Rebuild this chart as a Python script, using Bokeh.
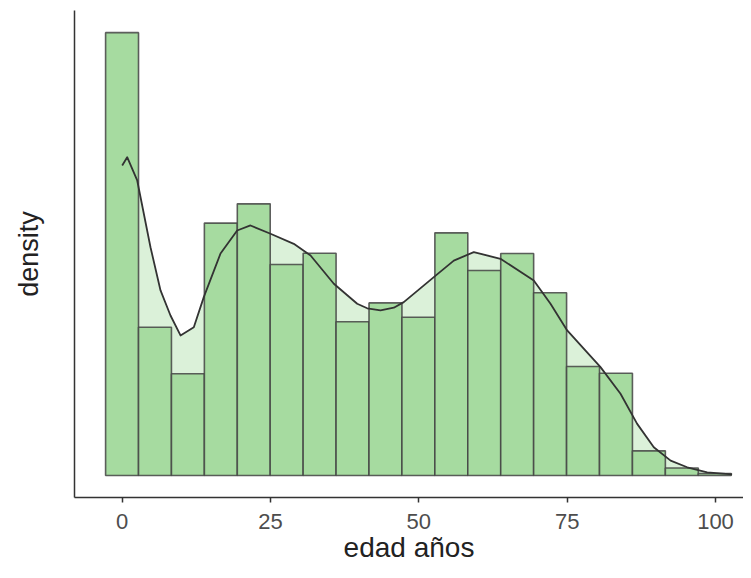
from bokeh.plotting import figure
from bokeh.models import Range1d, FixedTicker, ColumnDataSource
from bokeh.embed import file_html
from bokeh.resources import INLINE

# Histogram bins (edad años) and densities
bin_edges = [-2.8, 2.75, 8.3, 13.85, 19.4, 24.95, 30.5, 36.05, 41.6, 47.15,
             52.7, 58.25, 63.8, 69.35, 74.9, 80.45, 86.0, 91.55, 97.1, 102.65]
bar_density = [0.0246, 0.00824, 0.00565, 0.01402, 0.01509, 0.01172, 0.01235,
               0.00854, 0.00959, 0.00879, 0.01348, 0.01139, 0.01233, 0.01015,
               0.00606, 0.00568, 0.00137, 0.00042, 0.00011]

# Kernel density estimate
kde_x = [0.0, 0.84, 2.53, 4.77, 6.46, 8.14, 9.83, 12.07, 13.75, 16.57, 19.38, 21.62,
         25.0, 28.92, 31.75, 35.67, 39.61, 41.3, 43.54, 45.78, 47.46, 52.52, 55.89,
         59.26, 63.76, 69.37, 72.19, 75.0, 80.62, 83.99, 86.8, 89.6, 92.44, 95.23,
         98.6, 102.8]
kde_y = [0.01722, 0.01768, 0.01639, 0.01268, 0.01028, 0.00889, 0.00778, 0.00824,
         0.00991, 0.01233, 0.01361, 0.01389, 0.01343, 0.01287, 0.01222, 0.01065,
         0.00954, 0.00929, 0.00917, 0.00932, 0.00963, 0.01102, 0.01194, 0.01241,
         0.01204, 0.01083, 0.00954, 0.00806, 0.00602, 0.00454, 0.00287, 0.00157,
         0.00083, 0.00046, 0.00018, 0.00006]

x_ticks = [0, 25, 50, 75, 100]

bar_fill = "#a6dba0"
kde_fill = "#dbf1d9"

p = figure(width=743, height=570, output_backend="svg", toolbar_location=None,
           x_range=Range1d(-8.04, 104.72), y_range=Range1d(-0.00122, 0.02583),
           min_border_left=74, min_border_right=0, min_border_top=10,
           min_border_bottom=73)

p.background_fill_color = "white"
p.border_fill_color = "white"
p.outline_line_color = None
p.grid.grid_line_color = None

src_bars = ColumnDataSource(dict(left=bin_edges[:-1], right=bin_edges[1:],
                                 top=bar_density))
src_kde = ColumnDataSource(dict(x=kde_x, y=kde_y))

p.varea(x="x", y1=0, y2="y", source=src_kde, fill_color=kde_fill)
p.quad(left="left", right="right", bottom=0, top="top", source=src_bars,
       fill_color=bar_fill, line_color="#444444", line_alpha=0.85, line_width=1.6)
p.line(x="x", y="y", source=src_kde, line_color="#333333", line_width=1.8,
       line_join="round")

# x axis
p.xaxis.ticker = FixedTicker(ticks=x_ticks)
p.xaxis.axis_label = "edad años"
p.xaxis.axis_line_color = "#333333"
p.xaxis.axis_line_width = 1.5
p.xaxis.major_tick_line_color = "#333333"
p.xaxis.major_tick_line_width = 1.5
p.xaxis.major_tick_out = 5
p.xaxis.major_tick_in = 0
p.xaxis.minor_tick_line_color = None
p.xaxis.major_label_standoff = 11
p.xaxis.major_label_text_font = "Liberation Sans"
p.xaxis.major_label_text_font_size = "22px"
p.xaxis.major_label_text_color = "#4d4d4d"
p.xaxis.axis_label_text_font = "Liberation Sans"
p.xaxis.axis_label_text_font_size = "28px"
p.xaxis.axis_label_text_font_style = "normal"
p.xaxis.axis_label_text_color = "#222222"
p.xaxis.axis_label_standoff = 0

# y axis
p.yaxis.ticker = FixedTicker(ticks=[])
p.yaxis.axis_label = "density"
p.yaxis.axis_line_color = "#333333"
p.yaxis.axis_line_width = 1.5
p.yaxis.major_tick_line_color = None
p.yaxis.minor_tick_line_color = None
p.yaxis.major_label_standoff = 0
p.yaxis.axis_label_text_font = "Liberation Sans"
p.yaxis.axis_label_text_font_size = "27px"
p.yaxis.axis_label_text_font_style = "normal"
p.yaxis.axis_label_text_color = "#222222"
p.yaxis.axis_label_standoff = 31

open("out.html", "w").write(file_html(p, INLINE))
